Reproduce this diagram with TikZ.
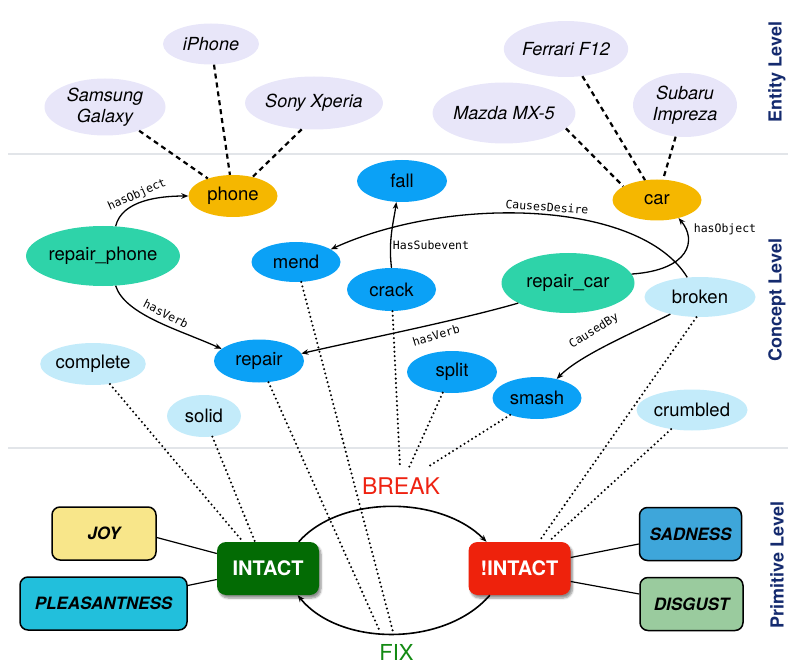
\documentclass[tikz,border=0pt]{standalone}
\usepackage{fontspec}
\setmainfont{TeX Gyre Heros}
\setmonofont{DejaVu Sans Mono}
\usetikzlibrary{shapes.geometric,arrows.meta,calc,shadows.blur}
\definecolor{entfill}{HTML}{E8E6F9}
\definecolor{objfill}{HTML}{F5B700}
\definecolor{actfill}{HTML}{2ED3A9}
\definecolor{verbfill}{HTML}{0BA1F6}
\definecolor{adjfill}{HTML}{C3EBFA}
\definecolor{joyfill}{HTML}{F8E68A}
\definecolor{plsfill}{HTML}{22BFDC}
\definecolor{sadfill}{HTML}{3EA6DA}
\definecolor{disfill}{HTML}{9ACB9E}
\definecolor{intfill}{HTML}{036B04}
\definecolor{nintfill}{HTML}{EE220C}
\definecolor{lvlcol}{HTML}{142A6E}
\definecolor{brkcol}{HTML}{EE2211}
\definecolor{fixcol}{HTML}{138A13}
\definecolor{sepcol}{HTML}{E2E5E9}
\begin{document}
\begin{tikzpicture}[x=1pt,y=-1pt,
  ent/.style={ellipse, fill=entfill, inner sep=0pt, align=center,
    font=\fontsize{18}{21.5}\selectfont\itshape},
  cpt/.style={ellipse, inner sep=0pt, minimum width=89pt, minimum height=42pt,
    font=\fontsize{18.5}{20}\selectfont},
  obj/.style={cpt, fill=objfill},
  act/.style={cpt, fill=actfill, minimum width=133pt, minimum height=60pt},
  verb/.style={cpt, fill=verbfill},
  adj/.style={cpt, fill=adjfill},
  prim/.style={rectangle, rounded corners=8pt, draw=black, line width=1.5pt,
    minimum height=53pt, inner sep=0pt,
    font=\fontsize{17}{20}\selectfont\bfseries\itshape},
  state/.style={rectangle, rounded corners=9pt, minimum width=102pt,
    minimum height=53pt, inner sep=0pt, text=white,
    font=\fontsize{20}{22}\selectfont\bfseries,
    blur shadow={shadow blur steps=6, shadow xshift=2pt, shadow yshift=-3pt, shadow opacity=45}},
  lvl/.style={rotate=90, text=lvlcol, font=\fontsize{18}{20}\selectfont\bfseries},
  lbl/.style={inner sep=0pt, font=\fontsize{11.5}{13}\selectfont\ttfamily},
  arr/.style={-{Stealth[length=7pt,width=5.5pt]}, line width=1.3pt},
  dsh/.style={line width=2.2pt, dash pattern=on 5pt off 4pt},
  dts/.style={line width=2.3pt, line cap=round, dash pattern=on 0pt off 4.5pt},
  sepline/.style={draw=sepcol, line width=1.5pt}
]
\useasboundingbox (0,0) rectangle (788,666);

% separators
\draw[sepline] (8,154) -- (788,154);
\draw[sepline] (8,448) -- (788,448);

% level labels
\node[lvl] (lvlE) at (777,72) {Entity Level};
\node[lvl] (lvlC) at (777,300) {Concept Level};
\node[lvl] (lvlP) at (777,565) {Primitive Level};

% entity level
\node[ent, minimum width=96pt, minimum height=41pt] (iphone) at (211,44) {iPhone};
\node[ent, minimum width=121pt, minimum height=57pt] (samsung) at (105,107) {Samsung\\Galaxy};
\node[ent, minimum width=121pt, minimum height=53pt] (sony) at (314,103) {Sony Xperia};
\node[ent, minimum width=121pt, minimum height=56pt] (ferrari) at (566,49) {Ferrari F12};
\node[ent, minimum width=134pt, minimum height=61pt] (mazda) at (504,113) {Mazda MX-5};
\node[ent, minimum width=104pt, minimum height=64pt] (subaru) at (685,105) {Subaru\\Impreza};

% concept level
\node[obj] (phone) at (233,196) {phone};
\node[obj, minimum height=41pt] (car) at (657,200) {car};
\node[act, minimum width=142pt] (rphone) at (103,256) {repair\_phone};
\node[act] (rcar) at (568,283) {repair\_car};
\node[verb, minimum width=90pt] (fall) at (402,181) {fall};
\node[verb, minimum height=40pt] (mend) at (296,262) {mend};
\node[verb, minimum height=43pt] (crack) at (391.5,289.5) {crack};
\node[verb, minimum width=90pt, minimum height=43pt] (repair) at (259,361) {repair};
\node[verb, minimum width=90pt] (split) at (452,372) {split};
\node[verb] (smash) at (537,398) {smash};
\node[adj, minimum width=111pt, minimum height=40pt] (broken) at (700,297) {broken};
\node[adj, minimum width=100pt] (complete) at (93,364) {complete};
\node[adj, minimum width=74pt] (solid) at (204,416) {solid};
\node[adj, minimum width=111pt, minimum height=41pt] (crumbled) at (692,410) {crumbled};

% primitive level
\node[prim, fill=joyfill, minimum width=104pt] (joy) at (104,533.5) {JOY};
\node[prim, fill=plsfill, minimum width=167pt] (pls) at (103.5,603.5) {PLEASANTNESS};
\node[prim, fill=sadfill, minimum width=102pt] (sad) at (690.5,534) {SADNESS};
\node[prim, fill=disfill, minimum width=103pt] (dis) at (691.5,604) {DISGUST};
\node[state, fill=intfill] (intact) at (268,568.5) {INTACT};
\node[state, fill=nintfill] (nintact) at (519.5,568.5) {!INTACT};
\node[text=brkcol, inner sep=2pt, font=\fontsize{23}{25}\selectfont] (brk) at (401,486) {BREAK};
\node[text=fixcol, inner sep=2pt, font=\fontsize{22}{24}\selectfont] (fix) at (396.5,652) {FIX};

% entity -> concept (dashed)
\draw[dsh] (samsung) -- (phone);
\draw[dsh] (iphone) -- (phone);
\draw[dsh] (sony.-115) -- (phone);
\draw[dsh] (mazda.-14) -- (car.158);
\draw[dsh] (ferrari) -- (car);
\draw[dsh] (subaru) -- (car);

% concept relations
\draw[arr] (rphone.67) .. controls (122,200) and (160,196) .. (phone.west);
\node[lbl, rotate=24] (l1) at (137,195) {hasObject};
\draw[arr] (rphone.-67) .. controls (125,315) and (180,330) .. (repair.162);
\node[lbl, rotate=-27] (l2) at (166,314) {hasVerb};
\draw[arr] (crack.north) .. controls (388,240) and (394,220) .. (fall.-105);
\node[lbl] (l3) at (431,245) {HasSubevent};
\draw[arr] (broken.123) .. controls (640,200) and (450,195) .. (mend.20);
\node[lbl, rotate=-4] (l4) at (547,207) {CausesDesire};
\draw[arr] (rcar.8) .. controls (690,270) and (697,240) .. (car.-40);
\node[lbl] (l5) at (725,229) {hasObject};
\draw[arr] (rcar.-158) .. controls (460,320) and (360,340) .. (repair.10);
\node[lbl, rotate=17] (l6) at (436,335) {hasVerb};
\draw[arr] (broken.-150) .. controls (635,332) and (580,355) .. (smash.44);
\node[lbl, rotate=32] (l7) at (594,331) {CausedBy};

% concept -> primitive (dotted)
\draw[dts] (complete) -- ($(intact.north)+(-25,0)$);
\draw[dts] (solid) -- ($(intact.north)+(-13,0)$);
\draw[dts] (repair) -- ($(fix.north)+(-16.5,-10)$);
\draw[dts] (mend) -- ($(fix.north)+(-3.5,-10)$);
\draw[dts] (crack) -- ($(brk.north)+(-1,-8)$);
\draw[dts] (split) -- ($(brk.north)+(8,-8)$);
\draw[dts] (smash) -- ($(brk.north)+(26,-8)$);
\draw[dts] (broken.-100) -- ($(nintact.north)+(20,-1)$);
\draw[dts] (crumbled) -- ($(nintact.north)+(30,-1)$);

% primitive connectors
\draw[line width=1.2pt] ($(joy.east)+(0,4)$) -- ($(intact.west)+(0,-15)$);
\draw[line width=1.2pt] ($(pls.east)+(0,-18)$) -- ($(intact.west)+(0,11)$);
\draw[line width=1.2pt] ($(nintact.east)+(0,-11)$) -- ($(sad.west)+(0,10)$);
\draw[line width=1.2pt] ($(nintact.east)+(0,13)$) -- ($(dis.west)+(0,-10)$);

% BREAK / FIX
\draw[arr, line width=1.6pt] (intact.41.5) .. controls (340,495) and (440,495) .. (nintact.141);
\draw[arr, line width=1.6pt] (nintact.-138) .. controls (445,647) and (340,647) .. (intact.-42);
\end{tikzpicture}
\end{document}
